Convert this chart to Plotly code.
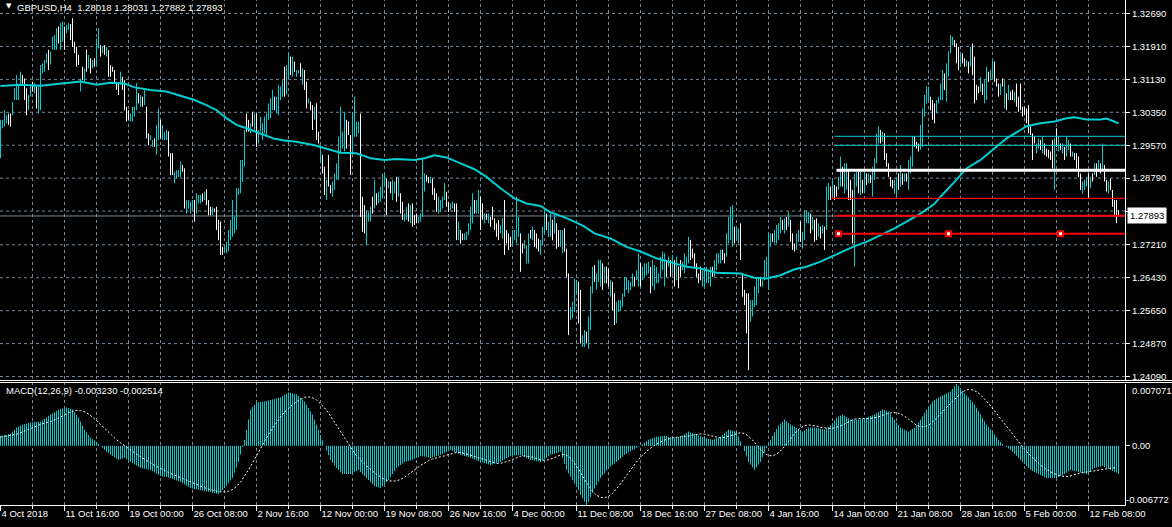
import plotly.graph_objects as go

# ---------------- DATA (prices in pips = 1e-4, MACD in 1e-5) ----------------
symbol = "GBPUSD,H4"
last_ohlc = [1.28018, 1.28031, 1.27882, 1.27893]
macd_caption = "MACD(12,26,9) -0.003230 -0.002514"

opens = [
12935,13000,13005,13012,13025,13012,13030,13066,13085,13075,13102,13120,13108,13072,13045,13075,13098,13085,13095,13045,
13085,13135,13140,13155,13172,13150,13185,13190,13200,13230,13200,13215,13235,13225,13232,13240,13245,13198,13182,13165,
13090,13140,13110,13175,13140,13160,13140,13158,13150,13195,13190,13176,13190,13170,13180,13140,13140,13133,13105,13095,
13102,13115,13100,13045,13035,13015,13020,13030,13045,13075,13055,13070,13055,13045,12982,12970,12955,12970,12950,12990,
13012,12975,12972,12975,12988,12935,12930,12870,12880,12885,12888,12908,12898,12798,12810,12800,12810,12824,12798,12822,
12820,12840,12828,12850,12822,12808,12793,12806,12808,12770,12740,12712,12702,12705,12710,12740,12760,12752,12770,12840,
12848,12875,12910,13025,13010,12988,13030,12998,13028,12965,12992,12975,12990,12985,13020,13030,13045,13070,13040,13040,
13069,13078,13131,13088,13125,13160,13127,13151,13122,13128,13146,13106,13127,13097,13058,13057,13042,13022,13042,12984,
12919,12927,12895,12835,12922,12860,12841,12857,12881,12892,12956,12956,12958,13006,13008,12965,12954,12993,12983,12990,
12991,12821,12804,12734,12780,12782,12828,12818,12838,12824,12829,12841,12864,12863,12858,12866,12835,12848,12872,12843,
12835,12816,12779,12785,12812,12779,12810,12787,12791,12775,12779,12810,12854,12883,12879,12870,12871,12850,12836,12802,
12804,12812,12834,12841,12819,12806,12810,12816,12804,12739,12751,12745,12735,12735,12749,12765,12784,12822,12800,12804,
12822,12813,12776,12792,12776,12783,12806,12779,12767,12772,12751,12744,12805,12751,12742,12736,12726,12736,12742,12748,
12733,12720,12715,12684,12689,12753,12737,12749,12742,12731,12703,12727,12757,12788,12746,12749,12772,12755,12762,12749,
12723,12710,12751,12701,12629,12548,12553,12575,12611,12617,12593,12484,12486,12510,12488,12536,12616,12666,12620,12642,
12632,12667,12636,12663,12658,12604,12622,12594,12543,12567,12570,12579,12606,12619,12611,12617,12627,12641,12641,12635,
12668,12642,12650,12654,12658,12659,12632,12624,12636,12634,12653,12668,12635,12678,12673,12678,12660,12675,12646,12661,
12678,12664,12661,12673,12687,12724,12708,12696,12672,12649,12664,12628,12630,12636,12635,12630,12665,12652,12668,12681,
12682,12705,12697,12702,12734,12745,12732,12757,12737,12730,12758,12644,12608,12590,12576,12547,12557,12582,12589,12612,
12641,12625,12645,12653,12636,12721,12745,12729,12731,12739,12754,12776,12754,12782,12770,12771,12742,12721,12715,12733,
12768,12719,12744,12777,12777,12787,12761,12771,12775,12745,12759,12751,12755,12773,12834,12854,12842,12857,12855,12856,
12871,12898,12855,12861,12886,12867,12830,12706,12865,12886,12848,12870,12851,12886,12871,12883,12847,12883,12926,12968,
12988,12969,12975,12933,12909,12878,12872,12848,12843,12884,12867,12886,12874,12887,12863,12897,12918,12973,12962,12958,
12956,12968,13033,13063,13069,13067,13056,13048,13037,13059,13070,13076,13121,13075,13129,13182,13197,13203,13190,13181,
13148,13171,13160,13146,13150,13151,13186,13149,13094,13093,13090,13098,13065,13077,13127,13115,13122,13147,13112,13098,
13081,13112,13055,13073,13070,13081,13084,13064,13094,13066,13093,13044,13045,13038,13041,12998,12975,12974,12942,12953,
12965,12944,12957,12946,12943,12939,12958,12871,12990,12948,12958,12942,12948,12938,12950,12956,12932,12935,12932,12922,
12884,12848,12855,12863,12880,12860,12887,12891,12909,12899,12910,12908,12904,12870,12848,12874,12844,12820,12818,12801.8]

highs = [
13017,13017,13040,13028,13032,13032,13060,13092,13123,13100,13131,13123,13115,13092,13076,13100,13107,13104,13096,13100,
13147,13151,13159,13175,13183,13179,13214,13218,13234,13238,13246,13250,13238,13242,13246,13244,13258,13202,13190,13171,
13115,13143,13139,13183,13171,13163,13159,13163,13210,13234,13194,13190,13194,13190,13182,13147,13143,13135,13107,13104,
13131,13119,13111,13048,13040,13032,13048,13048,13104,13080,13076,13072,13088,13048,12985,12981,12969,12973,13005,13044,
13017,13005,12989,12993,12990,12938,12938,12894,12898,12898,12918,12910,12902,12827,12827,12823,12827,12827,12843,12839,
12839,12843,12847,12853,12827,12811,12811,12807,12811,12780,12776,12716,12716,12728,12756,12780,12827,12788,12855,12855,
12922,12922,12993,13032,13017,13009,13036,13032,13032,12993,13025,13009,13025,13032,13056,13068,13088,13072,13072,13100,
13096,13111,13143,13147,13175,13167,13167,13155,13135,13135,13151,13139,13135,13107,13068,13060,13052,13048,13056,12989,
12946,12934,12906,12875,12934,12863,12871,12890,12914,12977,13048,12989,13036,13017,13013,12981,13036,13072,13013,13013,
13032,12835,12815,12803,12799,12811,12835,12875,12843,12847,12859,12890,12890,12878,12871,12871,12875,12871,12882,12882,
12843,12823,12795,12811,12819,12815,12819,12791,12795,12787,12795,12926,12890,12886,12882,12882,12878,12855,12843,12835,
12827,12835,12867,12847,12823,12819,12823,12819,12819,12776,12756,12748,12748,12752,12772,12811,12843,12827,12827,12851,
12835,12819,12795,12795,12795,12787,12811,12784,12772,12780,12768,12784,12827,12756,12748,12740,12756,12756,12835,12787,
12748,12724,12732,12720,12748,12756,12764,12756,12748,12736,12732,12764,12803,12795,12776,12795,12780,12791,12772,12756,
12756,12756,12760,12712,12653,12574,12586,12641,12637,12633,12614,12507,12519,12515,12551,12622,12669,12673,12653,12685,
12685,12677,12669,12669,12665,12637,12633,12606,12586,12590,12590,12606,12645,12645,12637,12633,12653,12645,12661,12701,
12677,12669,12677,12677,12681,12669,12685,12673,12669,12653,12693,12705,12701,12685,12693,12685,12697,12685,12693,12669,
12685,12681,12701,12693,12740,12732,12712,12701,12677,12653,12669,12661,12669,12669,12661,12669,12669,12685,12701,12701,
12709,12709,12701,12748,12787,12811,12815,12764,12764,12760,12772,12653,12614,12606,12606,12590,12590,12622,12645,12645,
12645,12637,12685,12693,12748,12748,12748,12756,12768,12772,12787,12780,12784,12787,12799,12780,12748,12724,12748,12756,
12776,12752,12803,12803,12799,12795,12787,12780,12784,12772,12764,12768,12764,12859,12867,12859,12875,12863,12859,12882,
12930,12906,12914,12914,12898,12875,12851,12890,12894,12894,12894,12875,12894,12890,12890,12886,12906,12926,12985,13001,
12993,12989,12985,12938,12914,12882,12875,12875,12882,12890,12910,12890,12890,12890,12922,12930,12977,12977,12965,12961,
13005,13044,13076,13096,13096,13072,13064,13056,13064,13072,13103,13135,13127,13151,13179,13218,13214,13206,13198,13190,
13175,13175,13163,13159,13155,13190,13198,13167,13100,13096,13119,13103,13111,13143,13131,13135,13159,13155,13115,13103,
13103,13115,13111,13080,13100,13084,13088,13084,13103,13072,13103,13048,13048,13044,13052,13001,12985,12977,12961,12973,
12969,12977,12961,12949,12946,12942,12969,12973,12997,12977,12961,12961,12953,12977,12969,12961,12942,12938,12938,12930,
12890,12871,12875,12882,12890,12882,12890,12914,12914,12922,12914,12961,12910,12875,12871,12878,12851,12827,12827,12803.1]

lows = [
12926,12997,13001,13009,13005,13001,13028,13064,13064,13064,13100,13103,13064,13028,13040,13072,13084,13080,13044,13032,
13040,13127,13131,13151,13135,13148,13183,13183,13183,13198,13183,13202,13183,13222,13230,13206,13190,13175,13143,13147,
13084,13111,13104,13131,13139,13127,13139,13143,13143,13186,13167,13175,13171,13167,13119,13119,13131,13104,13088,13076,
13100,13088,13040,13013,13017,13013,13013,13025,13040,13056,13048,13048,13052,12973,12957,12969,12953,12953,12934,12969,
12973,12969,12969,12969,12930,12886,12886,12867,12878,12882,12882,12894,12807,12795,12807,12795,12807,12776,12795,12819,
12819,12823,12827,12815,12791,12791,12791,12799,12756,12732,12697,12697,12701,12701,12705,12732,12740,12748,12756,12839,
12843,12870,12906,12989,12989,12985,13001,12993,12953,12961,12989,12969,12985,12977,13017,13021,13040,13040,13032,13028,
13064,13072,13072,13076,13115,13123,13119,13131,13119,13127,13119,13100,13088,13044,13056,13040,12993,13017,12969,12961,
12914,12890,12839,12827,12859,12843,12835,12851,12875,12875,12938,12949,12942,12949,12981,12886,12938,12977,12977,12985,
12787,12752,12748,12720,12776,12776,12795,12807,12815,12819,12823,12831,12859,12791,12855,12843,12827,12843,12823,12835,
12795,12780,12776,12780,12776,12772,12764,12768,12772,12772,12776,12787,12847,12871,12867,12867,12839,12827,12799,12795,
12799,12807,12827,12811,12799,12803,12807,12799,12732,12732,12724,12732,12732,12732,12744,12756,12772,12795,12795,12795,
12756,12780,12772,12780,12772,12764,12780,12756,12740,12732,12748,12736,12697,12724,12709,12716,12720,12732,12724,12740,
12657,12701,12712,12677,12677,12736,12732,12716,12712,12705,12697,12720,12748,12756,12740,12740,12732,12748,12712,12716,
12716,12701,12705,12645,12507,12543,12547,12562,12606,12535,12487,12479,12479,12487,12475,12519,12606,12633,12614,12633,
12622,12614,12630,12630,12622,12598,12566,12531,12535,12562,12566,12574,12598,12614,12606,12614,12622,12622,12637,12622,
12622,12637,12645,12649,12653,12606,12622,12614,12630,12630,12645,12661,12622,12645,12669,12645,12653,12622,12637,12618,
12645,12661,12653,12669,12677,12685,12689,12669,12645,12630,12637,12622,12622,12630,12630,12622,12645,12645,12661,12677,
12677,12685,12677,12693,12724,12732,12716,12724,12732,12724,12685,12598,12578,12511,12424,12539,12551,12574,12578,12606,
12622,12622,12637,12645,12614,12716,12728,12724,12724,12732,12748,12756,12748,12756,12764,12728,12709,12705,12709,12728,
12728,12712,12732,12772,12772,12748,12756,12728,12732,12740,12736,12748,12709,12756,12827,12827,12835,12827,12835,12851,
12859,12859,12843,12851,12827,12827,12724,12669,12859,12843,12839,12843,12843,12863,12867,12867,12835,12875,12914,12961,
12961,12965,12922,12906,12882,12859,12855,12843,12835,12851,12859,12863,12871,12871,12851,12890,12906,12953,12949,12942,
12946,12953,13025,13056,13064,13040,13017,13009,13032,13056,13064,13064,13088,13060,13119,13175,13194,13190,13151,13135,
13143,13151,13143,13143,13127,13143,13123,13056,13064,13080,13084,13076,13056,13064,13107,13111,13115,13107,13096,13072,
13076,13096,13044,13040,13064,13064,13064,13060,13048,13036,13040,13025,13028,13009,12985,12981,12922,12961,12938,12949,
12946,12938,12934,12930,12926,12922,12902,12851,12953,12942,12946,12938,12922,12930,12946,12930,12930,12922,12902,12882,
12851,12843,12851,12859,12831,12855,12871,12886,12882,12894,12890,12898,12871,12847,12843,12851,12811,12787,12772,12788.2]

closes = [
13005,13012,13035,13024,13010,13004,13055,13088,13110,13095,13125,13106,13070,13035,13070,13095,13088,13100,13050,13090,
13140,13148,13155,13170,13140,13175,13210,13212,13228,13202,13240,13245,13190,13238,13244,13210,13195,13180,13150,13150,
13110,13115,13135,13135,13165,13132,13155,13146,13200,13228,13170,13188,13175,13186,13125,13122,13133,13108,13090,13080,
13125,13092,13045,13018,13020,13028,13042,13045,13095,13060,13070,13052,13082,12980,12962,12978,12966,12956,12998,13035,
12980,13000,12985,12990,12935,12890,12892,12890,12895,12896,12912,12897,12815,12822,12824,12820,12825,12780,12838,12836,
12835,12826,12844,12818,12795,12794,12808,12800,12760,12738,12705,12700,12714,12722,12750,12772,12815,12782,12845,12852,
12915,12918,12985,12992,12993,13005,13005,13028,12960,12988,13020,13005,13020,13028,13050,13062,13082,13045,13068,13092,
13091,13105,13084,13135,13165,13130,13159,13135,13132,13134,13124,13133,13096,13054,13066,13043,13003,13043,12983,12966,
12941,12897,12850,12867,12871,12846,12865,12884,12908,12960,13030,12982,13020,12960,12986,12902,13020,13056,13007,13008,
12828,12766,12759,12789,12795,12805,12802,12864,12820,12842,12853,12880,12885,12806,12868,12848,12867,12866,12833,12874,
12803,12787,12792,12806,12783,12808,12773,12772,12776,12784,12792,12903,12883,12874,12870,12879,12846,12832,12806,12828,
12822,12830,12860,12817,12803,12816,12820,12802,12747,12769,12729,12735,12745,12749,12767,12802,12831,12800,12822,12842,
12769,12786,12791,12783,12791,12768,12785,12761,12745,12740,12765,12776,12719,12729,12715,12720,12750,12752,12817,12779,
12672,12705,12729,12713,12736,12739,12759,12723,12718,12710,12726,12757,12794,12763,12770,12786,12740,12784,12722,12723,
12749,12747,12714,12656,12531,12569,12580,12628,12632,12551,12508,12502,12512,12492,12538,12605,12659,12640,12647,12676,
12675,12624,12663,12636,12629,12631,12577,12543,12578,12585,12586,12601,12637,12640,12632,12630,12648,12626,12657,12688,
12631,12664,12672,12672,12676,12616,12675,12663,12663,12649,12685,12698,12688,12652,12689,12652,12690,12632,12684,12626,
12652,12678,12693,12689,12730,12693,12693,12674,12650,12634,12642,12655,12661,12663,12656,12661,12649,12678,12694,12697,
12704,12689,12681,12739,12777,12798,12799,12731,12759,12754,12699,12607,12584,12527,12454,12582,12584,12614,12634,12639,
12626,12634,12677,12685,12726,12743,12731,12751,12761,12765,12781,12760,12778,12761,12793,12737,12715,12708,12742,12751,
12736,12745,12791,12798,12794,12756,12782,12737,12741,12767,12741,12765,12718,12842,12860,12832,12868,12833,12839,12877,
12918,12867,12902,12904,12839,12835,12745,12853,12888,12851,12885,12848,12886,12867,12886,12870,12894,12918,12973,12994,
12966,12985,12932,12911,12887,12863,12858,12870,12874,12857,12902,12867,12887,12874,12910,12923,12965,12957,12952,12945,
12995,13029,13068,13089,13091,13045,13025,13017,13059,13069,13097,13123,13094,13136,13169,13211,13211,13193,13159,13144,
13170,13155,13146,13156,13132,13182,13135,13074,13070,13083,13113,13081,13102,13130,13111,13131,13152,13115,13099,13077,
13098,13099,13100,13047,13094,13067,13068,13080,13057,13042,13050,13029,13031,13015,12996,12984,12932,12964,12957,12969,
12950,12971,12938,12933,12929,12925,12913,12953,12960,12971,12949,12957,12927,12969,12965,12935,12940,12925,12908,12890,
12857,12866,12871,12878,12841,12877,12874,12909,12887,12917,12894,12951,12877,12852,12866,12855,12818,12794,12781,12789.3]

# moving average (read at selected bars)
ma_bars = [0,10,20,30,40,48,55,62,67,75,83,90,97,103,108,113,118,123,130,137,142,148,157,165,170,178,185,192,198,207,
           212,217,223,230,237,243,250,257,263,270,275,282,287,292,297,305,313,320,328,337,343,350,358,370,377,383,390,397,403,410,
           417,423,427,433,440,447,453,460,467,470,477,483,490,497,503,510,513,520,527,533,537,543,550,553,559]
ma_values = [13097,13100,13098,13103,13108,13100,13105,13103,13094,13088,13084,13074,13064,13052,13040,13021,13005,12997,12985,12972,
             12968,12965,12957,12946,12939,12938,12926,12922,12924,12922,12926,12933,12928,12914,12900,12882,12855,12831,12819,12813,
             12798,12786,12776,12764,12748,12736,12716,12705,12689,12677,12669,12665,12655,12653,12643,12641,12649,12663,12669,12681,
             12697,12709,12718,12728,12744,12760,12776,12795,12818,12835,12870,12902,12922,12949,12973,12993,13002,13009,13013,13021,
             13023,13018,13018,13020,13009]

# MACD main (histogram), 1e-5 units, one per bar
macd_hist = [
115,118,122,126,132,138,160,185,208,220,232,242,248,254,260,265,268,270,273,275,
277,292,308,324,341,358,372,386,400,415,421,427,433,439,431,423,415,385,354,323,
277,231,185,154,123,92,77,61,46,23,0,-23,-46,-69,-84,-100,-115,-131,-146,-162,
-154,-146,-138,-154,-169,-185,-199,-213,-227,-240,-254,-259,-263,-268,-272,-277,-291,-305,-318,-332,
-346,-351,-355,-360,-364,-369,-378,-388,-397,-406,-415,-429,-443,-457,-471,-485,-490,-494,-499,-503,
-508,-513,-517,-522,-526,-531,-537,-543,-548,-554,-531,-508,-485,-456,-427,-398,-369,-308,-246,-185,
-100,-15,69,184,300,415,442,469,496,499,502,505,508,514,520,525,531,537,543,548,
554,568,583,597,612,606,600,595,589,569,549,528,508,470,433,395,358,300,243,185,
123,62,0,-54,-108,-162,-193,-223,-254,-277,-300,-323,-323,-323,-323,-323,-312,-300,-289,-277,
-300,-323,-346,-369,-392,-416,-439,-462,-470,-477,-485,-462,-439,-415,-392,-358,-323,-289,-254,-237,
-219,-202,-185,-179,-173,-168,-162,-150,-139,-127,-115,-120,-124,-129,-133,-138,-131,-124,-118,-111,
-104,-92,-81,-69,-58,-46,-58,-69,-81,-92,-104,-111,-118,-124,-131,-138,-147,-157,-166,-176,
-185,-192,-199,-205,-212,-219,-212,-205,-199,-192,-185,-171,-157,-143,-129,-115,-113,-111,-108,-106,
-104,-115,-127,-139,-150,-162,-166,-171,-176,-180,-185,-169,-152,-136,-120,-104,-97,-90,-83,-76,
-69,-138,-208,-277,-315,-354,-392,-430,-467,-505,-560,-600,-640,-677,-640,-590,-540,-490,-450,-410,
-369,-340,-311,-283,-254,-237,-219,-202,-185,-165,-145,-124,-104,-90,-75,-61,-46,-35,-23,-12,
0,17,35,52,69,78,87,95,104,107,110,112,115,109,104,98,92,95,98,101,
104,119,133,148,162,153,144,136,127,118,110,101,92,86,81,75,69,78,87,95,
104,124,145,165,185,179,174,168,162,108,54,0,-62,-123,-185,-216,-246,-277,-246,-216,
-185,-131,-77,-23,23,69,115,154,192,231,254,277,300,281,261,242,231,219,208,193,
177,162,177,193,208,208,208,208,208,202,197,191,185,200,216,231,262,292,323,335,
346,358,344,329,315,300,300,300,300,300,306,312,317,323,332,341,349,358,372,386,
400,415,407,400,392,361,331,300,269,239,208,197,185,174,162,177,193,208,239,269,
300,338,377,415,446,477,508,523,539,554,566,577,589,600,612,623,650,680,707,685,
660,630,600,577,554,527,500,473,435,396,358,319,281,242,215,189,162,131,100,69,
46,23,0,-15,-31,-46,-69,-92,-115,-138,-162,-185,-208,-231,-254,-277,-289,-300,-312,-323,
-335,-346,-358,-369,-369,-369,-369,-369,-369,-358,-346,-335,-321,-306,-292,-277,-283,-289,-294,-300,
-306,-312,-317,-323,-306,-289,-271,-254,-248,-242,-237,-231,-243,-254,-266,-277,-286,-296,-305,-323]

# MACD signal, 1e-5 units, read every second bar
signal_values = [
100,106,112,120,132,150,170,190,210,228,245,258,270,285,305,330,355,378,395,405,
402,390,365,330,290,245,200,155,110,70,35,0,-35,-65,-95,-125,-155,-185,-210,-235,
-260,-285,-305,-325,-345,-365,-385,-405,-425,-445,-465,-480,-495,-508,-520,-528,-530,-520,-500,-465,
-415,-350,-275,-195,-110,-30,50,130,200,270,330,385,430,470,505,535,555,560,550,525,
485,435,375,305,230,155,80,10,-55,-115,-165,-210,-250,-290,-325,-360,-385,-400,-405,-400,
-385,-360,-330,-295,-260,-225,-195,-170,-150,-135,-125,-115,-100,-85,-75,-75,-85,-100,-115,-130,
-145,-160,-175,-190,-200,-200,-190,-175,-155,-135,-120,-115,-120,-130,-145,-160,-165,-160,-145,-125,
-105,-100,-120,-165,-230,-305,-385,-460,-520,-565,-590,-595,-580,-545,-495,-435,-370,-305,-245,-185,
-130,-85,-45,-10,20,45,65,80,90,98,100,105,112,122,130,135,132,122,110,95,
90,95,108,125,140,150,140,110,65,10,-40,-85,-110,-115,-95,-60,-10,50,110,165,
205,230,240,235,225,212,205,200,200,210,228,250,275,295,310,315,312,310,315,325,
340,358,372,380,378,365,340,305,265,235,218,218,235,270,315,365,415,465,510,550,
600,630,645,640,620,585,540,485,430,370,310,250,190,130,70,15,-40,-90,-135,-180,
-220,-255,-285,-310,-330,-345,-352,-350,-340,-325,-310,-300,-295,-290,-282,-272,-262,-256,-252,-251]
signal_step = 2

time_labels = ["4 Oct 2018", "11 Oct 16:00", "19 Oct 00:00", "26 Oct 08:00", "2 Nov 16:00", "12 Nov 00:00",
               "19 Nov 08:00", "26 Nov 16:00", "4 Dec 00:00", "11 Dec 08:00", "18 Dec 16:00", "27 Dec 08:00",
               "4 Jan 16:00", "14 Jan 00:00", "21 Jan 08:00", "28 Jan 16:00", "5 Feb 00:00", "12 Feb 08:00"]
label_every = 32
grid_every = 16

price_ticks = [1.32690, 1.31910, 1.31130, 1.30350, 1.29570, 1.28790, 1.28010,
               1.27210, 1.26430, 1.25650, 1.24870, 1.24090]
hidden_tick = 1.28010
macd_max = 0.007071
macd_min = -0.006772

# chart objects (horizontal lines drawn on the chart)
cyan_levels = [1.29781, 1.29568]
cyan_start = 417
white_level = 1.28975
white_start = 418
red_levels = [1.28312, 1.27900, 1.27473]
red_starts = [415, 418, 418]
red_widths = [1.2, 2, 2]
anchor_bars = [419, 474, 530]
bid = 1.27893

# ---------------- FIGURE ----------------
n = min(len(opens), len(highs), len(lows), len(closes))
X0, X1 = -0.25, 562.25
PRICE_LO, PRICE_HI = 1.24007, 1.33010
H_PLOT = 505.0
main_bottom = 1 - 380 / H_PLOT
macd_top = 121 / H_PLOT

CYAN = "#00CED1"
GRID = "#778899"
FONT = "Liberation Sans, Arial, sans-serif"
FS = 9.5

fig = go.Figure()

fig.add_trace(go.Scatter(x=[X0, X1], y=[bid, bid], mode="lines",
                         line=dict(color=GRID, width=1), hoverinfo="skip", xaxis="x", yaxis="y"))

ux, uy, dx, dy = [], [], [], []
for i in range(n):
    seg_x = [i, i, None]
    seg_y = [lows[i] / 1e4, highs[i] / 1e4, None]
    if closes[i] > opens[i]:
        ux += seg_x; uy += seg_y
    else:
        dx += seg_x; dy += seg_y
fig.add_trace(go.Scatter(x=dx, y=dy, mode="lines", line=dict(color="white", width=1),
                         hoverinfo="skip", xaxis="x", yaxis="y"))
fig.add_trace(go.Scatter(x=ux, y=uy, mode="lines", line=dict(color=CYAN, width=1),
                         hoverinfo="skip", xaxis="x", yaxis="y"))

fig.add_trace(go.Scatter(x=ma_bars, y=[v / 1e4 for v in ma_values], mode="lines",
                         line=dict(color=CYAN, width=2), hoverinfo="skip", xaxis="x", yaxis="y"))

for lv in cyan_levels:
    fig.add_trace(go.Scatter(x=[cyan_start, X1], y=[lv, lv], mode="lines",
                             line=dict(color=CYAN, width=1), hoverinfo="skip", xaxis="x", yaxis="y"))
fig.add_trace(go.Scatter(x=[white_start, X1], y=[white_level, white_level], mode="lines",
                         line=dict(color="white", width=3), hoverinfo="skip", xaxis="x", yaxis="y"))
for lv, st, w in zip(red_levels, red_starts, red_widths):
    fig.add_trace(go.Scatter(x=[st, X1], y=[lv, lv], mode="lines",
                             line=dict(color="#FF0000", width=w), hoverinfo="skip", xaxis="x", yaxis="y"))
fig.add_trace(go.Scatter(x=anchor_bars, y=[red_levels[-1]] * len(anchor_bars), mode="markers",
                         marker=dict(symbol="square", size=5, color="white",
                                     line=dict(color="#FF0000", width=2)),
                         hoverinfo="skip", xaxis="x", yaxis="y"))

hx, hy = [], []
for i, v in enumerate(macd_hist):
    hx += [i, i, None]
    hy += [0, v / 1e5, None]
fig.add_trace(go.Scatter(x=hx, y=hy, mode="lines", line=dict(color=CYAN, width=1),
                         hoverinfo="skip", xaxis="x2", yaxis="y2"))
fig.add_trace(go.Scatter(x=[k * signal_step for k in range(len(signal_values))],
                         y=[v / 1e5 for v in signal_values], mode="lines",
                         line=dict(color="white", width=1, dash="2px,2px"),
                         hoverinfo="skip", xaxis="x2", yaxis="y2"))

shapes = []
grid_bars = list(range(grid_every, n, grid_every))
for g in grid_bars:
    shapes.append(dict(type="line", xref="x", yref="paper", x0=g, x1=g, y0=0, y1=1,
                       line=dict(color=GRID, width=1, dash="3px,3px"), layer="below"))
for p in price_ticks:
    shapes.append(dict(type="line", xref="paper", yref="y", x0=0, x1=1, y0=p, y1=p,
                       line=dict(color=GRID, width=1, dash="3px,3px"), layer="below"))
for ypix in (380.5, 382.5):
    yy = (H_PLOT - ypix) / H_PLOT
    shapes.append(dict(type="line", xref="paper", yref="paper", x0=0, x1=1172 / 1125, y0=yy, y1=yy,
                       line=dict(color="white", width=1)))

label_bars = [k * label_every for k in range(len(time_labels))]

annotations = [
    dict(xref="paper", yref="paper", x=4 / 1125, y=1 - 6 / H_PLOT, text="\u25BC", showarrow=False,
         xanchor="left", yanchor="middle", font=dict(color="white", size=7, family="DejaVu Sans")),
    dict(xref="paper", yref="paper", x=15 / 1125, y=1 - 7 / H_PLOT,
         text=symbol + "\u00a0\u00a0" + " ".join(f"{v:.5f}" for v in last_ohlc), showarrow=False,
         xanchor="left", yanchor="middle", font=dict(color="white", size=FS, family=FONT)),
    dict(xref="paper", yref="paper", x=4 / 1125, y=(H_PLOT - 390) / H_PLOT, text=macd_caption,
         showarrow=False, xanchor="left", yanchor="middle", font=dict(color="white", size=FS, family=FONT)),
    dict(xref="paper", yref="paper", x=1 + 5 / 1125, y=(H_PLOT - 390) / H_PLOT, text=f"{macd_max:.6f}",
         showarrow=False, xanchor="left", yanchor="middle", font=dict(color="white", size=FS, family=FONT)),
    dict(xref="paper", yref="paper", x=1 - 1 / 1125, y=(H_PLOT - 499) / H_PLOT, text=f"{macd_min:.6f}",
         showarrow=False, xanchor="left", yanchor="middle", font=dict(color="white", size=FS, family=FONT)),
    dict(xref="paper", yref="y", x=1 + 2 / 1125, y=bid, text=f"{bid:.5f}", showarrow=False,
         xanchor="left", yanchor="middle", bgcolor="white", borderpad=2,
         font=dict(color="black", size=FS, family=FONT)),
]

fig.update_layout(
    width=1172, height=527,
    margin=dict(l=0, r=47, t=0, b=22),
    paper_bgcolor="black", plot_bgcolor="black",
    showlegend=False,
    shapes=shapes, annotations=annotations,
    xaxis=dict(domain=[0, 1], range=[X0, X1], anchor="y", matches="x2", showticklabels=False,
               showgrid=False, zeroline=False, ticks=""),
    yaxis=dict(domain=[main_bottom, 1], range=[PRICE_LO, PRICE_HI], side="right", anchor="x",
               tickvals=price_ticks,
               ticktext=["" if abs(p - hidden_tick) < 1e-9 else f"{p:.5f}" for p in price_ticks],
               ticks="outside", ticklen=4, tickcolor="white", showgrid=False, zeroline=False,
               showline=True, linecolor="white", linewidth=1,
               tickfont=dict(color="white", size=FS, family=FONT)),
    xaxis2=dict(domain=[0, 1], range=[X0, X1], anchor="y2", tickvals=label_bars, ticktext=time_labels,
                tickangle=0, ticks="outside", ticklen=5, tickcolor="white",
                ticklabelposition="outside right",
                showgrid=False, zeroline=False, showline=True, linecolor="white", linewidth=1,
                tickfont=dict(color="white", size=FS, family=FONT),
                minor=dict(tickvals=grid_bars, ticks="outside", ticklen=3, tickcolor="white", showgrid=False)),
    yaxis2=dict(domain=[0, macd_top], range=[macd_min, macd_max], side="right", anchor="x2",
                tickvals=[0], ticktext=["0.00"], ticks="outside", ticklen=4, tickcolor="white",
                showgrid=False, zeroline=False, showline=True, linecolor="white", linewidth=1,
                tickfont=dict(color="white", size=FS, family=FONT)),
)

fig.write_html("out.html", config={"displayModeBar": False},
               post_script="document.body.style.margin='0';document.body.style.overflow='hidden';")
